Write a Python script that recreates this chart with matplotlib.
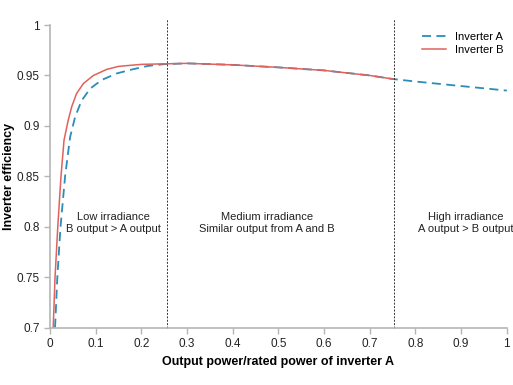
import matplotlib
matplotlib.use('Agg')
from matplotlib import pyplot as plt

plt.rcParams['font.family'] = ['Liberation Sans', 'DejaVu Sans']

# Inverter A efficiency curve (full range)
a_x = [0.011, 0.016, 0.023, 0.033, 0.044, 0.055, 0.069, 0.088, 0.113, 0.146, 0.18,
       0.215, 0.25, 0.3, 0.4, 0.5, 0.6, 0.7, 0.75, 0.8, 0.9, 1.0]
a_y = [0.70, 0.75, 0.80, 0.85, 0.889, 0.909, 0.925, 0.937, 0.9455, 0.952, 0.956,
       0.9595, 0.9612, 0.962, 0.9605, 0.958, 0.955, 0.950, 0.9465, 0.944, 0.9395, 0.935]

# Inverter B efficiency curve (up to its rated power)
b_x = [0.007, 0.011, 0.017, 0.024, 0.0307, 0.040, 0.0475, 0.058, 0.073, 0.095, 0.124,
       0.15, 0.2, 0.25, 0.3, 0.4, 0.5, 0.6, 0.7, 0.75]
b_y = [0.70, 0.75, 0.80, 0.85, 0.886, 0.906, 0.919, 0.932, 0.942, 0.950, 0.956,
       0.959, 0.961, 0.9615, 0.962, 0.9605, 0.958, 0.955, 0.950, 0.9465]

boundaries = [0.255, 0.752]
regions = [(0.138, 'Low irradiance\nB output > A output'),
           (0.475, 'Medium irradiance\nSimilar output from A and B'),
           (0.91, 'High irradiance\nA output > B output')]

fig, ax = plt.subplots(figsize=(5.13, 3.85), dpi=100)
fig.subplots_adjust(left=0.0975, right=0.988, bottom=0.149, top=0.935)

ax.plot(a_x, a_y, color='#2b8db8', lw=1.3, ls=(0, (5, 3)), label='Inverter A')
ax.plot(b_x, b_y, color='#e0625c', lw=1.1, label='Inverter B')

for bx in boundaries:
    ax.vlines(bx, 0.7, 1.006, colors='#333333', linestyles=(0, (2, 1.5)), lw=0.7, clip_on=False)

for rx, txt in regions:
    ax.text(rx, 0.804, txt, ha='center', va='center', fontsize=8, color='#222222',
            linespacing=1.3)

ax.set_xlim(0, 1)
ax.set_ylim(0.7, 1)
ax.set_xticks([i / 10 for i in range(11)])
ax.set_xticklabels(['0', '0.1', '0.2', '0.3', '0.4', '0.5', '0.6', '0.7', '0.8', '0.9', '1'])
ax.set_yticks([0.7, 0.75, 0.8, 0.85, 0.9, 0.95, 1])
ax.set_yticklabels(['0.7', '0.75', '0.8', '0.85', '0.9', '0.95', '1'])

for s in ['top', 'right']:
    ax.spines[s].set_visible(False)
for s in ['left', 'bottom']:
    ax.spines[s].set_color('#b5b5b5')
    ax.spines[s].set_linewidth(1.2)
ax.tick_params(colors='#b5b5b5', labelcolor='#222222', labelsize=8.5, length=4, width=1)

ax.set_xlabel('Output power/rated power of inverter A', fontsize=9, fontweight='bold')
ax.set_ylabel('Inverter efficiency', fontsize=9, fontweight='bold', labelpad=1)

ax.legend(loc='upper right', bbox_to_anchor=(1.015, 1.01), frameon=False, fontsize=8,
          handlelength=2.2, labelspacing=0.3)

plt.savefig('out.png', dpi=100)
